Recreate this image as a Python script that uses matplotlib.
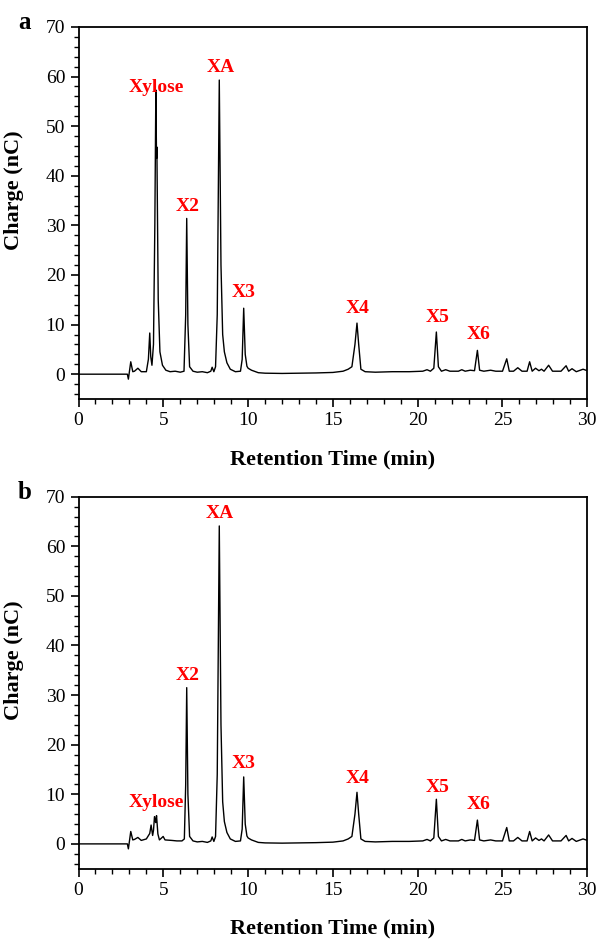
import numpy as np
import matplotlib
matplotlib.use('Agg')
import matplotlib.pyplot as plt
from matplotlib.ticker import MultipleLocator

plt.rcParams['font.family'] = ['Liberation Serif', 'DejaVu Serif']

# Chromatogram traces (retention time in min, charge in nC)
time_a = [0, 2.88, 2.94, 3.08, 3.2, 3.3, 3.5, 3.7, 4.0, 4.12, 4.2, 4.26, 4.33, 4.42,
          4.5, 4.56, 4.6, 4.62, 4.7, 4.8, 4.95, 5.15, 5.4, 5.7, 6.0, 6.22, 6.32, 6.38,
          6.45, 6.55, 6.75, 7.0, 7.3, 7.6, 7.8, 7.88, 7.98, 8.08, 8.18, 8.3, 8.4, 8.5,
          8.6, 8.75, 8.95, 9.25, 9.55, 9.65, 9.74, 9.83, 9.93, 10.0, 10.2, 10.6, 11.0,
          12.0, 13.0, 14.0, 15.0, 15.6, 15.9, 16.12, 16.3, 16.42, 16.52, 16.65, 16.9,
          17.5, 18.5, 19.5, 20.3, 20.55, 20.75, 20.95, 21.1, 21.22, 21.4, 21.65, 21.9,
          22.4, 22.6, 22.8, 23.1, 23.35, 23.52, 23.65, 23.9, 24.3, 24.6, 25.0, 25.25,
          25.4, 25.65, 25.9, 26.15, 26.45, 26.6, 26.75, 26.95, 27.15, 27.3, 27.45,
          27.72, 27.95, 28.45, 28.75, 28.9, 29.1, 29.35, 29.75, 30.0]
charge_a = [0, 0, -1.0, 2.5, 0.5, 0.6, 1.2, 0.5, 0.5, 3.0, 8.3, 3.5, 1.8, 6.0,
            30.0, 57.3, 43.5, 45.8, 15.0, 4.5, 1.8, 0.8, 0.5, 0.6, 0.4, 0.6, 12.0, 31.4,
            10.0, 1.5, 0.6, 0.4, 0.5, 0.3, 0.6, 1.4, 0.5, 1.5, 12.0, 59.3, 22.0, 8.0,
            4.5, 2.3, 1.0, 0.5, 0.6, 3.0, 13.3, 4.0, 1.6, 1.2, 0.8, 0.3, 0.2,
            0.15, 0.2, 0.25, 0.35, 0.6, 1.0, 1.5, 6.0, 10.3, 6.0, 1.0, 0.5,
            0.4, 0.5, 0.5, 0.6, 0.9, 0.6, 1.2, 8.5, 1.5, 0.6, 0.9, 0.6,
            0.6, 0.9, 0.6, 0.8, 0.7, 4.8, 0.8, 0.6, 0.8, 0.6, 0.6, 3.1,
            0.6, 0.6, 1.3, 0.6, 0.6, 2.5, 0.6, 1.2, 0.7, 1.0, 0.6,
            1.8, 0.6, 0.6, 1.7, 0.6, 1.1, 0.5, 1.0, 0.7]

time_b = [0, 2.88, 2.94, 3.08, 3.2, 3.3, 3.5, 3.7, 4.0, 4.2, 4.28, 4.37, 4.42, 4.48,
          4.55, 4.6, 4.68, 4.77, 4.9, 4.99, 5.1, 5.5, 5.8, 6.1, 6.24, 6.32, 6.38,
          6.45, 6.55, 6.75, 7.0, 7.3, 7.6, 7.8, 7.88, 7.98, 8.08, 8.18, 8.3, 8.4, 8.5,
          8.6, 8.75, 8.95, 9.25, 9.55, 9.65, 9.74, 9.83, 9.93, 10.0, 10.2, 10.6, 11.0,
          12.0, 13.0, 14.0, 15.0, 15.6, 15.9, 16.12, 16.3, 16.42, 16.52, 16.65, 16.9,
          17.5, 18.5, 19.5, 20.3, 20.55, 20.75, 20.95, 21.1, 21.22, 21.4, 21.65, 21.9,
          22.4, 22.6, 22.8, 23.1, 23.35, 23.52, 23.65, 23.9, 24.3, 24.6, 25.0, 25.25,
          25.4, 25.65, 25.9, 26.15, 26.45, 26.6, 26.75, 26.95, 27.15, 27.3, 27.45,
          27.72, 27.95, 28.45, 28.75, 28.9, 29.1, 29.35, 29.75, 30.0]
charge_b = [0, 0, -1.0, 2.5, 0.8, 0.9, 1.3, 0.7, 1.0, 2.1, 3.8, 1.7, 2.7, 5.5,
            4.3, 5.7, 2.0, 0.8, 1.2, 1.5, 0.8, 0.7, 0.6, 0.6, 1.0, 12.0, 31.5,
            10.0, 1.5, 0.6, 0.4, 0.5, 0.3, 0.6, 1.4, 0.5, 1.5, 14.0, 64.1, 24.0, 8.5,
            4.5, 2.3, 1.0, 0.5, 0.6, 3.0, 13.5, 4.0, 1.6, 1.2, 0.8, 0.3, 0.2,
            0.15, 0.2, 0.25, 0.35, 0.6, 1.0, 1.5, 6.0, 10.4, 6.0, 1.0, 0.5,
            0.4, 0.5, 0.5, 0.6, 0.9, 0.6, 1.2, 9.0, 1.5, 0.6, 0.9, 0.6,
            0.6, 0.9, 0.6, 0.8, 0.7, 4.8, 0.8, 0.6, 0.8, 0.6, 0.6, 3.3,
            0.6, 0.6, 1.3, 0.6, 0.6, 2.5, 0.6, 1.2, 0.7, 1.0, 0.6,
            1.8, 0.6, 0.6, 1.7, 0.6, 1.1, 0.5, 1.0, 0.7]

# Peak labels: text, x, y for each panel
peak_names = ['Xylose', 'X2', 'XA', 'X3', 'X4', 'X5', 'X6']
label_x = [4.6, 6.41, 8.38, 9.76, 16.43, 21.17, 23.6]
label_y_a = [57.8, 33.9, 61.8, 16.4, 13.2, 11.4, 8.0]
label_x_b = [4.6, 6.41, 8.3, 9.76, 16.43, 21.17, 23.6]
label_y_b = [8.4, 33.9, 66.7, 16.2, 13.2, 11.4, 8.0]

fig = plt.figure(figsize=(5.98, 9.43), dpi=100)

panels = [
    ('a', [0.1313, 0.5769, 0.8508, 0.3945], time_a, charge_a, label_x, label_y_a),
    ('b', [0.1313, 0.0788, 0.8508, 0.3945], time_b, charge_b, label_x_b, label_y_b),
]

for letter, rect, t, c, lx, ly in panels:
    ax = fig.add_axes(rect)
    ax.plot(t, c, color='black', lw=1.0)
    ax.set_xlim(0, 30)
    ax.set_ylim(-5, 70)
    ax.xaxis.set_major_locator(MultipleLocator(5))
    ax.xaxis.set_minor_locator(MultipleLocator(1))
    ax.yaxis.set_major_locator(MultipleLocator(10))
    ax.yaxis.set_minor_locator(MultipleLocator(2))
    ax.tick_params(which='major', direction='out', length=6, width=1.2, labelsize=14)
    ax.tick_params(which='minor', direction='out', length=3.5, width=1.0)
    for s in ax.spines.values():
        s.set_linewidth(1.3)
    ax.set_xlabel('Retention Time (min)', fontsize=16, fontweight='bold')
    ax.set_ylabel('Charge (nC)', fontsize=16, fontweight='bold')
    ax.xaxis.set_label_coords(0.5, -0.135)
    ax.yaxis.set_label_coords(-0.108, 0.56)
    for name, x, y in zip(peak_names, lx, ly):
        ax.text(x, y, name, color='red', fontsize=14, fontweight='bold',
                ha='center', va='center')
    top_px = (1 - rect[1] - rect[3]) * 943
    fig.text(18 / 598, 1 - (top_px - 4) / 943, letter, fontsize=18,
             fontweight='bold', ha='left', va='center')

fig.savefig('out.png', dpi=100)
